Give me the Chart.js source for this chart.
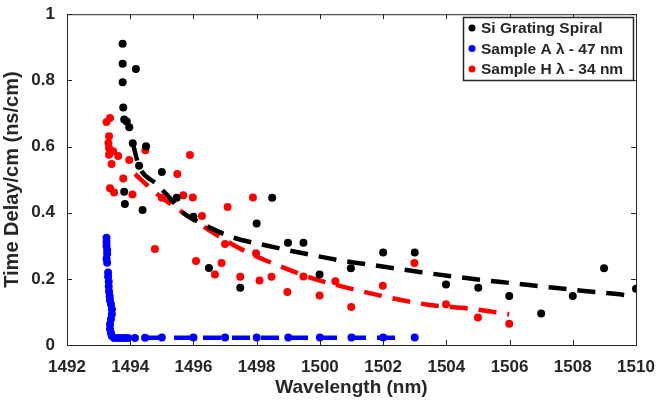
<!DOCTYPE html>
<html>
<head>
<meta charset="utf-8">
<script src="https://cdn.jsdelivr.net/npm/chart.js@4.4.1/dist/chart.umd.min.js"></script>
<style>
  body { margin: 0; background: #fff; }
  #wrap { width: 670px; height: 401px; }
</style>
</head>
<body>
<div id="wrap"><canvas id="delayChart" width="670" height="401"></canvas></div>
<script>
const siX = [1493.76, 1493.76, 1494.18, 1493.76, 1493.78, 1493.81, 1493.89, 1493.97, 1494.08, 1494.50,
  1494.28, 1495.00, 1493.81, 1493.83, 1494.39, 1495.47, 1496.00, 1496.49, 1497.48, 1498.00,
  1498.49, 1498.99, 1499.48, 1499.99, 1500.98, 1502.00, 1503.00, 1503.99, 1505.01, 1505.99,
  1507.00, 1508.00, 1508.99, 1510.00];
const siY = [0.911, 0.850, 0.834, 0.794, 0.718, 0.682, 0.676, 0.658, 0.610, 0.601,
  0.542, 0.523, 0.463, 0.426, 0.408, 0.445, 0.388, 0.233, 0.173, 0.367,
  0.445, 0.309, 0.309, 0.213, 0.232, 0.280, 0.280, 0.183, 0.173, 0.148,
  0.095, 0.148, 0.232, 0.170];

const aX = [1493.25, 1493.25, 1493.25, 1493.27, 1493.27, 1493.25, 1493.27, 1493.30, 1493.30, 1493.32,
  1493.32, 1493.33, 1493.35, 1493.36, 1493.39, 1493.42, 1493.42, 1493.39, 1493.36, 1493.36,
  1493.39, 1493.42, 1493.49, 1493.61, 1493.71, 1493.83, 1493.93, 1494.15, 1494.47, 1495.00,
  1496.00, 1497.00, 1498.00, 1499.00, 1500.00, 1501.00, 1502.00, 1503.00];
const aY = [0.324, 0.312, 0.300, 0.288, 0.276, 0.261, 0.249, 0.219, 0.207, 0.192,
  0.177, 0.162, 0.147, 0.135, 0.123, 0.108, 0.093, 0.078, 0.063, 0.048,
  0.036, 0.027, 0.021, 0.021, 0.021, 0.021, 0.021, 0.021, 0.022, 0.023,
  0.023, 0.023, 0.023, 0.023, 0.023, 0.023, 0.023, 0.023];

const hX = [1493.25, 1493.36, 1493.33, 1493.31, 1493.33, 1493.46, 1493.33, 1493.62, 1493.41, 1493.97,
  1494.48, 1493.78, 1493.36, 1493.49, 1494.07, 1495.89, 1495.49, 1495.68, 1495.98, 1494.78,
  1496.27, 1497.08, 1497.88, 1497.00, 1497.98, 1496.08, 1496.89, 1496.68, 1497.48, 1498.09,
  1498.47, 1498.97, 1499.48, 1499.99, 1500.49, 1500.99, 1501.99, 1502.99, 1503.99, 1505.00,
  1505.99, 1495.00];
const hY = [0.674, 0.686, 0.631, 0.611, 0.595, 0.586, 0.575, 0.571, 0.547, 0.559,
  0.589, 0.503, 0.474, 0.461, 0.455, 0.574, 0.517, 0.453, 0.446, 0.290,
  0.390, 0.417, 0.446, 0.305, 0.277, 0.254, 0.248, 0.213, 0.206, 0.195,
  0.206, 0.160, 0.207, 0.150, 0.193, 0.115, 0.179, 0.248, 0.123, 0.083,
  0.064, 0.445];

// fitted curves
const siFitX = [1494.08, 1494.28, 1494.84, 1495.20, 1495.67, 1496.10, 1496.74, 1497.25, 1498.20, 1499.43,
  1500.70, 1501.93, 1503.21, 1504.40, 1505.67, 1506.93, 1508.20, 1509.40, 1509.72];
const siFitY = [0.610, 0.541, 0.486, 0.450, 0.400, 0.375, 0.345, 0.325, 0.303, 0.278,
  0.255, 0.238, 0.220, 0.205, 0.191, 0.178, 0.165, 0.154, 0.150];

const hFitX = [1494.15, 1494.57, 1494.94, 1495.52, 1496.37, 1497.44, 1498.61, 1499.72, 1500.95, 1502.22,
  1503.48, 1504.72, 1505.99];
const hFitY = [0.517, 0.480, 0.450, 0.410, 0.355, 0.293, 0.243, 0.203, 0.171, 0.143,
  0.121, 0.110, 0.093];

const aFitX = [1493.55, 1502.70];
const aFitY = [0.022, 0.022];

const xTicks = [1492, 1494, 1496, 1498, 1500, 1502, 1504, 1506, 1508, 1510];
const yTicks = [0, 0.2, 0.4, 0.6, 0.8, 1];

const legendItems = [
  { label: 'Si Grating Spiral', color: '#000000' },
  { label: 'Sample A \u03bb - 47 nm', color: '#0000ff' },
  { label: 'Sample H \u03bb - 34 nm', color: '#ff0000' }
];

const FONT = '"Liberation Sans", Arial, sans-serif';
const INK = '#262626';

function zip(xs, ys) {
  return xs.map((x, i) => ({ x: x, y: ys[i] }));
}

function pointSet(label, xs, ys, color) {
  return {
    label: label,
    data: zip(xs, ys),
    backgroundColor: color,
    borderColor: color,
    pointRadius: 4,
    pointBorderWidth: 0,
    showLine: false
  };
}

function fitSet(label, xs, ys, color) {
  return {
    label: label,
    data: zip(xs, ys),
    borderColor: color,
    borderWidth: 4.5,
    borderDash: [18, 11],
    pointRadius: 0,
    showLine: true,
    tension: 0.4,
    cubicInterpolationMode: 'monotone',
    fill: false
  };
}

// box round the plot with inward ticks, like the original figure
const frame = {
  id: 'frame',
  afterDraw(chart) {
    const { ctx, chartArea: a, scales } = chart;
    ctx.save();
    ctx.strokeStyle = INK;
    ctx.lineWidth = 1;
    ctx.strokeRect(a.left + 0.5, a.top + 0.5, a.right - a.left, a.bottom - a.top);
    ctx.beginPath();
    xTicks.forEach(t => {
      const px = Math.round(scales.x.getPixelForValue(t)) + 0.5;
      ctx.moveTo(px, a.bottom); ctx.lineTo(px, a.bottom - 5);
      ctx.moveTo(px, a.top); ctx.lineTo(px, a.top + 5);
    });
    yTicks.forEach(t => {
      const py = Math.round(scales.y.getPixelForValue(t)) + 0.5;
      ctx.moveTo(a.left, py); ctx.lineTo(a.left + 5, py);
      ctx.moveTo(a.right, py); ctx.lineTo(a.right - 5, py);
    });
    ctx.stroke();

    // legend box
    const bx = 463, by = 17, bw = 170, bh = 63;
    ctx.fillStyle = '#fff';
    ctx.fillRect(bx, by, bw, bh);
    ctx.strokeStyle = INK;
    ctx.lineWidth = 1.5;
    ctx.strokeRect(bx + 0.5, by + 0.5, bw, bh);
    ctx.font = 'bold 15.5px ' + FONT;
    ctx.textBaseline = 'middle';
    legendItems.forEach((it, i) => {
      const cy = by + 12 + i * 20.5;
      ctx.fillStyle = it.color;
      ctx.beginPath();
      ctx.arc(bx + 9, cy - 1, 3.5, 0, Math.PI * 2);
      ctx.fill();
      ctx.fillStyle = INK;
      ctx.fillText(it.label, bx + 18, cy);
    });
    ctx.restore();
  }
};

const ctx = document.getElementById('delayChart').getContext('2d');
new Chart(ctx, {
  type: 'scatter',
  data: {
    datasets: [
      pointSet('Si Grating Spiral', siX, siY, '#000000'),
      pointSet('Sample A', aX, aY, '#0000ff'),
      pointSet('Sample H', hX, hY, '#ff0000'),
      fitSet('Si fit', siFitX, siFitY, '#000000'),
      fitSet('A fit', aFitX, aFitY, '#0000ff'),
      fitSet('H fit', hFitX, hFitY, '#ff0000')
    ]
  },
  options: {
    responsive: false,
    animation: false,
    layout: { padding: { top: 12, right: 34, left: 0, bottom: 0 } },
    plugins: { legend: { display: false }, tooltip: { enabled: false } },
    scales: {
      x: {
        type: 'linear',
        min: 1492, max: 1510,
        afterBuildTicks: s => { s.ticks = xTicks.map(v => ({ value: v })); },
        afterFit: s => { s.height = 56; },
        grid: { display: false },
        border: { display: false },
        ticks: {
          color: INK, padding: 4, font: { family: FONT, size: 17, weight: 'bold' },
          callback: v => String(v)
        },
        title: {
          display: true, text: 'Wavelength (nm)', color: INK,
          font: { family: FONT, size: 19, weight: 'bold' }, padding: { top: 0, bottom: 2 }
        }
      },
      y: {
        min: 0, max: 1,
        afterBuildTicks: s => { s.ticks = yTicks.map(v => ({ value: v })); },
        afterFit: s => { s.width = 67; },
        grid: { display: false },
        border: { display: false },
        ticks: {
          color: INK, padding: 4, font: { family: FONT, size: 17, weight: 'bold' },
          callback: v => (v === 0 || v === 1) ? String(v) : v.toFixed(1)
        },
        title: {
          display: true, text: 'Time Delay/cm (ns/cm)', color: INK,
          font: { family: FONT, size: 20, weight: 'bold' }, padding: { top: 0, bottom: 2 }
        }
      }
    }
  },
  plugins: [frame]
});
</script>
</body>
</html>
